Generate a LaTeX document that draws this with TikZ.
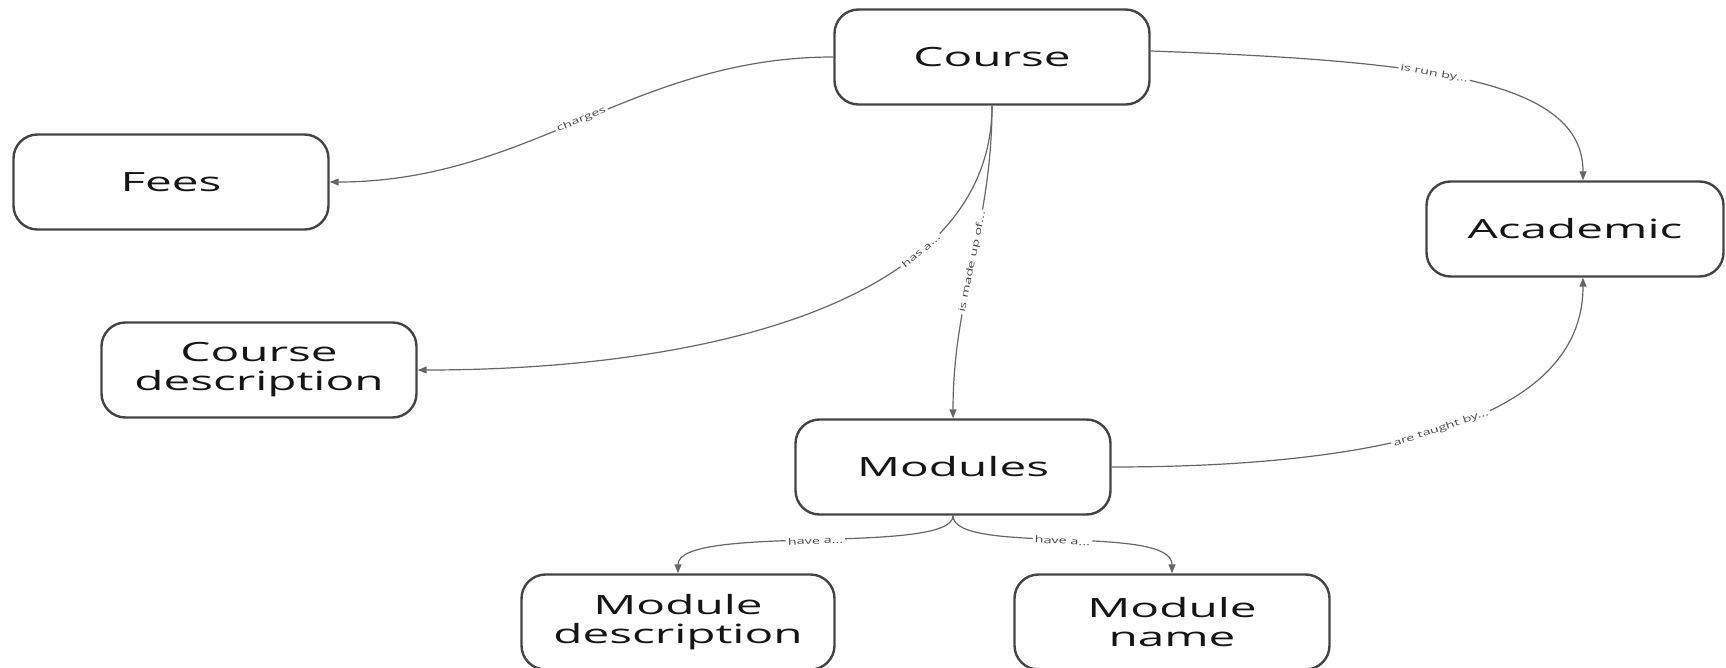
\documentclass[tikz,border=0pt]{standalone}
\usepackage{fontspec}
\setmainfont{Open Sans}[FakeStretch=1.8]
\newfontfamily\lblfont{Open Sans}[FakeStretch=1.6]
\usetikzlibrary{arrows.meta}
\definecolor{boxline}{HTML}{444444}
\definecolor{edgeline}{HTML}{666666}
\definecolor{inkc}{HTML}{151515}
\begin{document}
\begin{tikzpicture}[x=1pt,y=1pt,
  entity/.style={draw=boxline, line width=2.4pt, fill=white, rounded corners=24pt,
    minimum width=315pt, minimum height=95pt, text=inkc, align=center, inner sep=0pt,
    font=\fontsize{26.5}{29}\selectfont},
  rel/.style={draw=edgeline, line width=1.2pt, -{Triangle[length=9pt,width=7pt]}},
  lbl/.style={fill=white, inner sep=2pt, sloped, text=edgeline!70!black,
    font=\lblfont\fontsize{9}{10}\selectfont},
]
\useasboundingbox (0,0) rectangle (1726,-668);

% entities
\node[entity] (course)   at (992,-57)  {Course};
\node[entity] (fees)     at (171,-182) {Fees};
\node[entity, minimum width=297pt] (academic) at (1575,-229) {Academic};
\node[entity] (cdesc)    at (259,-370) {Course\\description};
\node[entity] (modules)  at (953,-467) {Modules};
\node[entity, minimum width=313pt] (mdesc) at (678,-622) {Module\\description};
\node[entity] (mname)    at (1172,-622) {Module\\name};

% relationships
\draw[rel] (course.west) .. controls +(-200,0) and +(200,0) .. (fees.east)
  node[lbl,pos=0.5] {charges};
\draw[rel] ([yshift=6pt]course.east) .. controls +(280,-10) and +(0,100) .. ([xshift=8pt]academic.north)
  node[lbl,pos=0.42] {is run by...};
\draw[rel] (course.south) .. controls +(0,-200) and +(280,0) .. (cdesc.east)
  node[lbl,pos=0.3] {has a...};
\draw[rel] (course.south) .. controls +(0,-120) and +(0,120) .. (modules.north)
  node[lbl,pos=0.5] {is made up of...};
\draw[rel] (modules.east) .. controls +(250,0) and +(0,-150) .. ([xshift=8pt]academic.south)
  node[lbl,pos=0.5] {are taught by...};
\draw[rel] (modules.south) .. controls +(0,-40) and +(0,50) .. (mdesc.north)
  node[lbl,pos=0.5] {have a...};
\draw[rel] (modules.south) .. controls +(0,-40) and +(0,50) .. (mname.north)
  node[lbl,pos=0.5] {have a...};
\end{tikzpicture}
\end{document}
